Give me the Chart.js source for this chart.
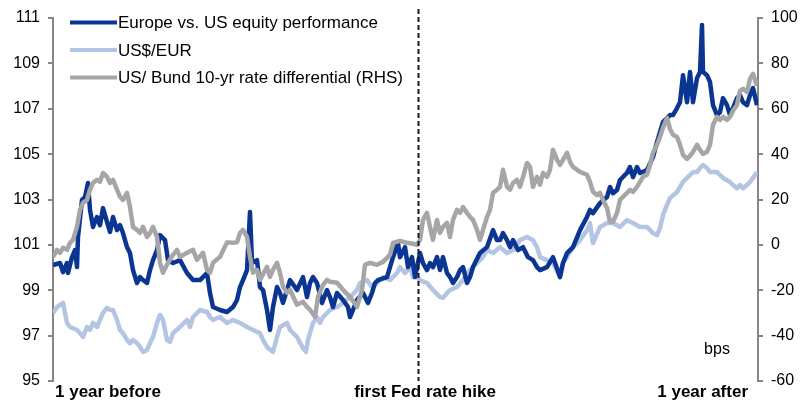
<!DOCTYPE html>
<html>
<head>
<meta charset="utf-8">
<script src="https://cdn.jsdelivr.net/npm/chart.js@4.4.0/dist/chart.umd.min.js"></script>
<style>
html,body{margin:0;padding:0;background:#ffffff;}
#wrap{width:801px;height:402px;}
</style>
</head>
<body>
<div id="wrap"><canvas id="c" width="801" height="402"></canvas></div>
<script>
// ---- data (days relative to the first Fed rate hike) ----
const seriesNames = ['Europe vs. US equity performance', 'US$/EUR', 'US/ Bund 10-yr rate differential (RHS)'];
const xTickLabels = ['1 year before', 'first Fed rate hike', '1 year after'];
const unitLabel = 'bps';

const equityDays = [-365,-358,-355,-351,-350,-346,-343,-341,-340,-336,-333,-330,-328,-325,-321,-318,-315,-311,-308,-305,-301,-298,-295,-291,-288,-285,-281,-278,-275,-271,-268,-265,-261,-258,-253,-250,-245,-238,-231,-225,-218,-211,-208,-205,-198,-191,-185,-181,-178,-175,-171,-168,-166,-161,-158,-155,-151,-148,-145,-141,-138,-135,-131,-128,-121,-115,-111,-108,-105,-101,-96,-91,-88,-85,-81,-75,-70,-68,-61,-55,-50,-46,-43,-40,-31,-25,-20,-18,-13,-10,-6,-3,2,5,9,12,15,19,22,25,29,32,35,39,42,45,49,52,55,62,69,75,79,82,85,89,92,95,100,105,110,115,119,122,129,135,142,145,149,155,162,169,172,175,182,189,192,195,199,202,209,212,215,219,222,229,235,239,245,252,255,259,262,265,269,272,275,279,282,284,285,289,292,295,299,302,305,309,312,315,319,322,325,329,332,335,339];
const equityValues = [100.11,100.20,99.80,100.20,99.76,100.46,100.77,100.02,101.35,102.98,103.11,103.73,102.54,101.79,102.23,101.87,102.62,102.01,101.57,102.23,101.65,101.87,101.52,100.90,100.64,99.89,99.32,99.58,99.45,99.32,99.89,100.33,100.77,101.43,101.21,100.33,100.20,100.33,99.76,99.45,99.45,99.76,98.88,98.26,98.13,98.04,98.26,98.57,99.14,99.45,99.89,102.45,100.20,100.33,99.14,99.01,98.13,97.25,98.26,99.14,98.88,98.44,99.01,99.45,99.01,99.58,98.70,99.32,99.58,99.32,98.44,99.01,98.70,98.26,98.88,98.57,98.26,97.82,98.57,98.88,98.44,98.88,99.32,99.45,99.58,100.46,101.08,100.46,100.90,100.02,100.46,99.58,100.64,100.20,99.89,100.20,100.02,100.46,99.89,100.46,99.76,99.58,99.32,99.58,99.89,100.02,99.32,99.58,100.02,100.64,100.90,101.65,101.21,101.21,101.52,101.21,100.90,101.21,100.77,100.90,100.46,100.33,100.02,99.89,100.02,100.46,99.58,100.20,100.64,100.90,101.65,102.23,102.54,102.40,102.84,103.11,103.55,103.28,103.42,103.86,104.17,104.43,103.99,104.43,104.17,104.30,104.87,105.53,106.41,106.72,106.72,107.03,107.29,108.48,107.29,108.62,107.29,108.35,108.62,110.69,108.62,108.48,108.18,107.16,106.72,106.85,107.47,107.16,106.72,107.03,107.47,107.60,107.29,107.16,107.60,107.91,107.16];

const fxDays = [-365,-361,-355,-351,-348,-341,-338,-335,-331,-328,-325,-321,-318,-315,-311,-308,-305,-301,-298,-295,-291,-288,-285,-281,-278,-275,-271,-268,-265,-261,-258,-255,-251,-248,-245,-238,-231,-228,-225,-218,-211,-208,-205,-198,-191,-185,-178,-171,-165,-158,-155,-151,-145,-141,-138,-131,-128,-121,-115,-112,-110,-105,-101,-98,-95,-88,-81,-75,-68,-61,-58,-51,-46,-41,-35,-28,-21,-18,-13,-8,-5,-1,2,9,15,22,25,29,32,39,45,49,52,59,65,69,75,82,89,95,102,109,115,119,122,129,135,142,145,149,155,162,169,172,175,182,189,195,202,209,215,222,229,235,239,242,245,249,252,259,265,269,275,279,282,285,289,292,299,302,305,312,315,319,322,325,329,332,335,339];
const fxValues = [98.00,98.26,98.44,97.56,97.38,97.25,97.11,96.94,97.38,97.25,97.56,97.38,97.69,98.00,98.22,98.13,98.13,97.69,97.25,97.11,96.81,96.67,96.81,96.67,96.50,96.28,96.37,96.67,96.94,97.56,97.91,97.69,96.81,96.72,97.11,97.38,97.69,97.38,97.82,98.13,98.04,97.82,97.69,97.82,97.56,97.69,97.56,97.38,97.25,97.11,96.81,96.50,96.28,96.94,97.38,97.56,97.25,96.94,96.45,96.28,96.81,97.56,97.82,97.56,97.82,98.13,98.26,98.44,98.70,99.01,99.32,99.45,99.14,99.32,99.58,99.45,99.76,100.02,99.76,100.02,99.58,99.58,99.45,99.32,99.01,98.70,98.66,98.88,99.01,99.14,99.45,99.76,99.89,100.20,100.46,100.77,100.64,100.90,100.64,100.77,101.21,101.35,101.21,100.90,100.46,100.33,100.20,99.58,100.20,100.46,100.90,101.21,101.65,101.96,101.08,101.79,101.96,101.96,101.79,102.09,101.96,101.79,101.79,101.52,101.43,101.74,102.32,102.76,103.06,103.33,103.77,103.95,104.21,104.21,104.39,104.52,104.39,104.21,104.21,104.08,103.95,103.77,103.64,103.50,103.64,103.50,103.64,103.77,103.95,104.21];

const spreadDays = [-365,-361,-358,-355,-351,-348,-345,-341,-338,-335,-331,-328,-325,-321,-318,-315,-311,-308,-305,-301,-298,-295,-291,-288,-285,-281,-278,-275,-271,-268,-265,-261,-258,-255,-250,-245,-241,-238,-231,-225,-221,-215,-211,-208,-205,-198,-191,-185,-181,-178,-175,-171,-168,-165,-161,-158,-151,-148,-145,-141,-138,-135,-131,-128,-121,-115,-111,-108,-103,-100,-95,-91,-88,-81,-75,-68,-61,-56,-53,-48,-41,-35,-28,-25,-18,-11,-5,-1,2,5,9,12,15,19,22,25,29,32,35,39,42,45,49,52,55,59,62,65,69,72,75,79,82,85,89,92,95,99,102,105,109,112,115,119,122,125,129,132,135,139,142,145,149,152,155,159,162,169,172,175,179,182,185,189,192,195,199,202,205,209,212,215,219,222,225,229,232,235,239,242,245,249,252,255,259,262,265,269,272,275,279,282,285,289,292,295,299,302,305,309,312,315,319,322,325,329,332,335,339];
const spreadValues = [-5.3,-2.2,-3.5,-1.3,-2.2,0.9,2.2,7.9,15.4,18.5,19.8,24.3,27.3,28.7,27.8,31.7,30.0,27.3,28.7,24.3,21.2,19.8,22.9,16.7,7.9,6.6,5.3,7.9,3.5,5.3,7.9,3.5,-7.9,-12.3,-7.9,-4.4,-2.2,-5.3,-3.5,-2.2,-6.6,-3.5,-11.0,-12.3,-7.9,-5.3,1.1,0.9,1.1,5.3,6.6,3.5,-5.3,-12.3,-11.0,-15.4,-9.7,-14.1,-11.0,-7.9,-12.3,-18.5,-21.1,-19.8,-26.4,-25.1,-27.3,-28.6,-31.7,-22.9,-17.6,-15.4,-16.3,-16.7,-19.8,-22.9,-27.3,-19.8,-8.8,-7.9,-8.8,-7.5,-4.4,0.9,1.8,0.9,0.5,0.0,2.2,11.0,14.1,7.9,2.2,11.0,5.3,7.9,9.7,3.5,11.0,15.4,14.1,16.7,14.1,12.3,11.0,6.6,2.2,6.6,12.3,15.4,22.9,24.3,25.6,33.1,25.6,24.3,27.3,28.7,25.6,30.0,36.1,34.4,25.6,30.0,26.5,31.7,30.0,33.1,41.9,37.5,35.3,37.5,40.6,36.6,34.4,33.1,32.2,30.9,27.8,23.4,22.0,22.9,19.8,16.3,10.2,10.2,14.1,19.8,21.2,22.9,24.3,23.4,25.6,27.8,30.0,30.9,35.3,40.6,44.1,47.6,51.6,56.0,51.1,48.5,47.6,44.1,39.7,37.9,39.2,41.0,44.1,41.9,40.1,41.0,44.1,52.9,56.4,55.1,56.4,55.1,56.4,59.1,61.7,67.9,68.8,67.4,73.2,75.4,70.1];

const hikeDay = 0;
const dayMin = -365, dayMax = 340;

// ---- styles ----
const FONT = "'Liberation Sans', Arial, Helvetica, sans-serif";
const colEquity = '#0b3592';
const colFx = '#b4c5e4';
const colSpread = '#a6a6a6';
const axisGrey = '#868686';

function pts(days, vals){ return days.map((d,i)=>({x:d, y:vals[i]})); }

const overlay = {
  id: 'overlay',
  afterDatasetsDraw(chart){
    const {ctx, chartArea, scales} = chart;
    const xp = scales.x.getPixelForValue(hikeDay);
    ctx.save();
    ctx.strokeStyle = '#1a1a1a';
    ctx.lineWidth = 2;
    ctx.setLineDash([5,3]);
    ctx.beginPath();
    ctx.moveTo(Math.round(xp)+0.5, chartArea.top - 9);
    ctx.lineTo(Math.round(xp)+0.5, chartArea.bottom);
    ctx.stroke();
    ctx.restore();
  },
  afterDraw(chart){
    const {ctx, chartArea, scales} = chart;
    ctx.save();
    const cols = [colEquity, colFx, colSpread];
    const rowY = [22.5, 50, 77.5];
    ctx.font = '17px ' + FONT;
    ctx.textBaseline = 'middle';
    ctx.textAlign = 'left';
    seriesNames.forEach((n,i)=>{
      ctx.strokeStyle = cols[i];
      ctx.lineWidth = 4;
      ctx.lineCap = 'butt';
      ctx.setLineDash([]);
      ctx.beginPath();
      ctx.moveTo(70, rowY[i]);
      ctx.lineTo(117, rowY[i]);
      ctx.stroke();
      ctx.fillStyle = '#000';
      ctx.fillText(n, 118, rowY[i] + 1);
    });
    ctx.font = '16px ' + FONT;
    ctx.textAlign = 'center';
    ctx.fillText(unitLabel, chartArea.right - 41, scales.y2.getPixelForValue(-46));
    ctx.restore();
  }
};

const tickFont = {family: FONT, size: 16};

new Chart(document.getElementById('c'), {
  type: 'line',
  data: {
    datasets: [
      {label: seriesNames[2], data: pts(spreadDays, spreadValues), yAxisID: 'y2', borderColor: colSpread, borderWidth: 4.5, pointRadius: 0, tension: 0, order: 0, borderJoinStyle: 'round'},
      {label: seriesNames[0], data: pts(equityDays, equityValues), yAxisID: 'y', borderColor: colEquity, borderWidth: 4.5, pointRadius: 0, tension: 0, order: 1, borderJoinStyle: 'round'},
      {label: seriesNames[1], data: pts(fxDays, fxValues), yAxisID: 'y', borderColor: colFx, borderWidth: 4.5, pointRadius: 0, tension: 0, order: 2, borderJoinStyle: 'round'}
    ]
  },
  options: {
    responsive: false,
    animation: false,
    devicePixelRatio: 1,
    layout: {padding: {top: 18, left: 0, right: 0, bottom: 0}},
    plugins: {legend: {display: false}, tooltip: {enabled: false}},
    scales: {
      x: {
        type: 'linear', min: dayMin, max: dayMax,
        grid: {display: false, drawTicks: false},
        border: {display: false},
        afterBuildTicks: s => { s.ticks = [{value: dayMin + 2}, {value: hikeDay + 7}, {value: dayMax - 10}]; },
        afterFit: s => { s.height = 21; },
        ticks: {
          autoSkip: false, maxRotation: 0, minRotation: 0, align: 'inner', padding: 1,
          color: '#000', font: {family: FONT, size: 17, weight: 'bold'},
          callback: (v, i) => xTickLabels[i]
        }
      },
      y: {
        position: 'left', min: 95, max: 111,
        afterFit: s => { s.width = 53; },
        ticks: {stepSize: 2, color: '#000', font: tickFont, padding: 8},
        grid: {drawOnChartArea: false, drawTicks: true, tickLength: 5, color: axisGrey, lineWidth: 2},
        border: {display: true, color: axisGrey, width: 2}
      },
      y2: {
        position: 'right', min: -60, max: 100,
        afterFit: s => { s.width = 43; },
        ticks: {stepSize: 20, color: '#000', font: tickFont, padding: 8},
        grid: {drawOnChartArea: false, drawTicks: true, tickLength: 5, color: axisGrey, lineWidth: 2},
        border: {display: true, color: axisGrey, width: 2}
      }
    }
  },
  plugins: [overlay]
});
</script>
</body>
</html>
